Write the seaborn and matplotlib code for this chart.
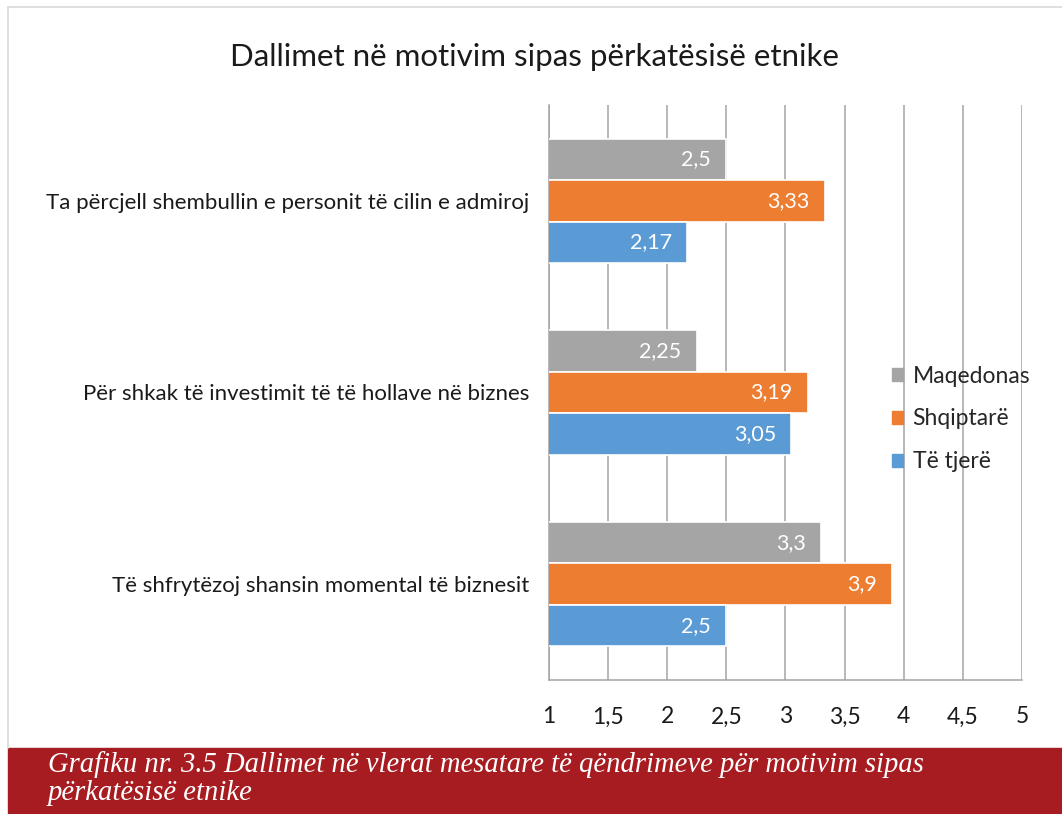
import matplotlib
matplotlib.use("Agg")
import matplotlib.pyplot as plt
from matplotlib.patches import Rectangle
from matplotlib.lines import Line2D
import seaborn as sns
import pandas as pd

# Data
categories = [
    "Ta përcjell shembullin e personit të cilin e admiroj",
    "Për shkak të investimit të të hollave në biznes",
    "Të shfrytëzoj shansin momental të biznesit",
]
groups = ["Maqedonas", "Shqiptarë", "Të tjerë"]
maqedonas = [2.5, 2.25, 3.3]
shqiptare = [3.33, 3.19, 3.9]
te_tjere = [2.17, 3.05, 2.5]
x_ticks = [1, 1.5, 2, 2.5, 3, 3.5, 4, 4.5, 5]

title = "Dallimet në motivim sipas përkatësisë etnike"
caption_lines = [
    "Grafiku nr. 3.5 Dallimet në vlerat mesatare të qëndrimeve për motivim sipas",
    "përkatësisë etnike",
]

colors = ["#A5A5A5", "#ED7D31", "#5B9BD5"]
grid_col = "#A6A3A6"
text_col = "#1a1a1a"

rows = []
for name, vals in zip(groups, [maqedonas, shqiptare, te_tjere]):
    for cat, v in zip(categories, vals):
        rows.append({"kategoria": cat, "grupi": name, "vlera": v})
df = pd.DataFrame(rows)

sns.set_theme(style="white")
plt.rcParams["font.family"] = ["Lato", "DejaVu Sans"]

fig = plt.figure(figsize=(10.62, 8.14), dpi=100)
W, H = 1062, 814

# light frame around the chart
fig.add_artist(Line2D([8 / W, 1.0], [1 - 7 / H, 1 - 7 / H], color="#D9D9D9", lw=1.2,
                      transform=fig.transFigure))
fig.add_artist(Line2D([8 / W, 8 / W], [1 - 7 / H, 1 - 748 / H], color="#D9D9D9", lw=1.2,
                      transform=fig.transFigure))

ax = fig.add_axes([549 / W, 1 - 680 / H, (1022 - 549) / W, (680 - 105) / H])

sns.barplot(data=df, y="kategoria", x="vlera", hue="grupi", order=categories,
            hue_order=groups, palette=colors, orient="h", width=0.65,
            edgecolor="white", linewidth=1.2, saturation=1, legend=False, ax=ax, zorder=3)

ax.set_xlim(1, 5)
ax.set_ylim(2.5, -0.5)
ax.set_xticks(x_ticks)
ax.set_xticklabels([str(t).replace(".", ",") for t in x_ticks])
ax.xaxis.grid(True, color=grid_col, lw=1.1, zorder=0)
ax.yaxis.grid(False)
ax.set_axisbelow(True)
ax.set_xlabel("")
ax.set_ylabel("")

for side in ["top", "right"]:
    ax.spines[side].set_visible(False)
for side in ["left", "bottom"]:
    ax.spines[side].set_visible(True)
    ax.spines[side].set_color(grid_col)
    ax.spines[side].set_linewidth(1.1)

# category labels at band centers, tick marks at band boundaries
ax.set_yticks(range(len(categories)))
ax.set_yticklabels(categories)
ax.set_yticks([-0.5, 0.5, 1.5, 2.5], minor=True)
ax.tick_params(axis="y", which="major", length=0, pad=14, labelsize=16, labelcolor=text_col)
ax.tick_params(axis="y", which="minor", length=5, width=1.1, color=grid_col, direction="out")
ax.tick_params(axis="x", which="major", length=5, width=1.1, color=grid_col, direction="out",
               pad=14, labelsize=16.5, labelcolor=text_col)

# value labels inside the end of each bar
for cont in ax.containers:
    for bar in cont:
        v = bar.get_width()
        lab = f"{v:g}".replace(".", ",")
        ax.annotate(lab, (v, bar.get_y() + bar.get_height() / 2), xytext=(-11, 0),
                    textcoords="offset points", ha="right", va="center",
                    color="white", fontsize=15.5, zorder=5)

fig.text(535 / W, 1 - 57 / H, title, ha="center", va="center", fontsize=22.5, color=text_col)

# legend
handles = [Rectangle((0, 0), 1, 1, color=c) for c in colors]
fig.legend(handles, groups, loc="center left", bbox_to_anchor=(892 / W, 1 - 419 / H),
           frameon=False, fontsize=16.5, handlelength=0.5, handleheight=0.5,
           handletextpad=0.4, labelspacing=0.95, borderpad=0, borderaxespad=0)

# caption band
fig.add_artist(Rectangle((8 / W, 0), 1 - 8 / W, 66 / H, transform=fig.transFigure,
                         color="#A61C20", zorder=0))
for i, line in enumerate(caption_lines):
    fig.text(48 / W, 1 - (772 + 28 * i) / H, line, ha="left", va="baseline", fontsize=20.6,
             color="white", style="italic", family=["Liberation Serif", "DejaVu Serif"])

fig.savefig("out.png", dpi=100)
